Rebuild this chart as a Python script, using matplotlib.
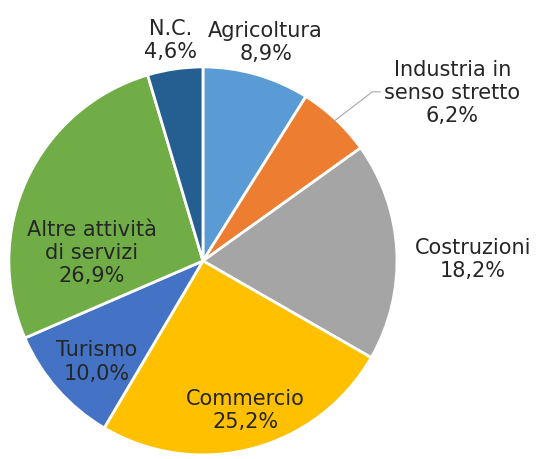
import numpy as np
import matplotlib.pyplot as plt

# dati: ripartizione per settore
settori = ['Agricoltura', 'Industria in\nsenso stretto', 'Costruzioni', 'Commercio',
           'Turismo', 'Altre attività\ndi servizi', 'N.C.']
quote = [8.9, 6.2, 18.2, 25.2, 10.0, 26.9, 4.6]
colori = ['#5B9BD5', '#ED7D31', '#A5A5A5', '#FFC000', '#4472C4', '#70AD47', '#255E91']

# posizione etichette: distanza dal centro e spostamento angolare (gradi)
dist_etich = [1.17, 1.55, 1.39, 0.80, 0.755, 0.573, 1.15]
shift_etich = [0, 12.8, 2.5, -1, -2.2, -21, 0]

fig = plt.figure(figsize=(5.40, 4.59), dpi=100, facecolor='w')
ax = fig.add_axes([0, 0, 1, 1])

wedges, _ = ax.pie(quote, colors=colori, startangle=90, counterclock=False,
                   radius=1.0, wedgeprops=dict(edgecolor='white', linewidth=2))

tot = sum(quote)
cum = np.cumsum([0] + quote[:-1])
for i, (nome, q) in enumerate(zip(settori, quote)):
    # angolo in senso orario dall'alto
    a = np.deg2rad((cum[i] + q / 2) / tot * 360 + shift_etich[i])
    x = dist_etich[i] * np.sin(a)
    y = dist_etich[i] * np.cos(a)
    testo = nome + '\n' + ('%.1f%%' % q).replace('.', ',')
    ax.text(x, y, testo, ha='center', va='center', fontsize=15,
            color='#262626', linespacing=1.2)

# linea guida per "Industria in senso stretto"
a = np.deg2rad((cum[1] + quote[1] / 2) / tot * 360)
x0, y0 = 0.99 * np.sin(a), 0.99 * np.cos(a)
ax.plot([x0, x0 + 0.195, x0 + 0.235], [y0, y0 + 0.15, y0 + 0.15],
        color='#A6A6A6', lw=0.8)

ax.set_xlim(-1.046, 1.737)
ax.set_ylim(-1.021, 1.345)
ax.set_aspect('auto')
ax.axis('off')

fig.savefig('out.png', dpi=100, facecolor='w')
